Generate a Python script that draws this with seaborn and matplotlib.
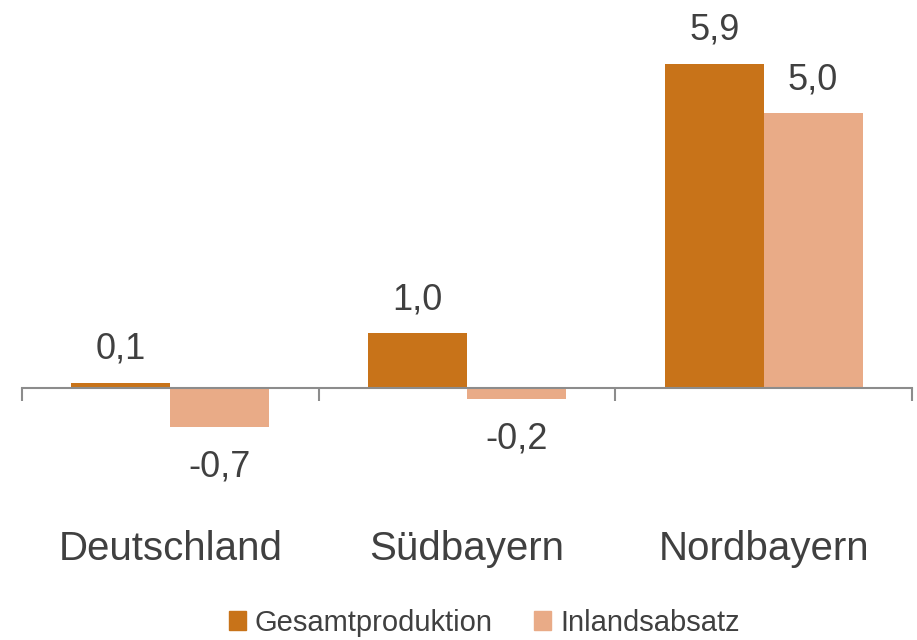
import pandas as pd
import numpy as np
import matplotlib
matplotlib.use('Agg')
import matplotlib.pyplot as plt
import seaborn as sns

# 資料
regions = ['Deutschland', 'Südbayern', 'Nordbayern']
series = ['Gesamtproduktion', 'Inlandsabsatz']
gesamt = [0.1, 1.0, 5.9]
inland = [-0.7, -0.2, 5.0]
colors = ['#C87319', '#E9AB87']

df = pd.DataFrame({
    'region': regions * 2,
    'serie': [series[0]] * 3 + [series[1]] * 3,
    'wert': gesamt + inland,
})

sns.set_style('white')
plt.rcParams['font.family'] = ['Liberation Sans', 'DejaVu Sans']
text_color = '#404040'

fig = plt.figure(figsize=(9.17, 6.4), dpi=100)
ax = fig.add_axes([22 / 917, 1 - 443 / 640, 890 / 917, 412.5 / 640])

sns.barplot(data=df, x='region', y='wert', hue='serie', order=regions,
            hue_order=series, palette=colors, width=2 / 3, gap=0,
            saturation=1, linewidth=0, ax=ax, legend=False)

ax.set_xlim(-0.5, 2.5)
ax.set_ylim(-1.0, 6.5)

# Wertbeschriftungen
for p in ax.patches:
    h = p.get_height()
    x = p.get_x() + p.get_width() / 2
    label = f'{h:.1f}'.replace('.', ',')
    off = 24 if h >= 0 else -29
    ax.annotate(label, (x, h), xytext=(0, off), textcoords='offset points',
                ha='center', va='center', fontsize=26, color=text_color)

# Achse
for s in ['top', 'right', 'left']:
    ax.spines[s].set_visible(False)
ax.spines['bottom'].set_position(('data', 0))
ax.spines['bottom'].set_color('#8C8C8C')
ax.spines['bottom'].set_linewidth(1.5)
ax.set_yticks([])
ax.set_xticks([-0.5, 0.5, 1.5, 2.5])
ax.set_xticklabels([])
ax.tick_params(axis='x', which='major', direction='out', length=9, width=1.5,
               color='#8C8C8C', bottom=True)
ax.set_xticks([0, 1, 2], minor=True)
ax.set_xticklabels(regions, minor=True)
ax.tick_params(axis='x', which='minor', length=0, pad=102, labelsize=29,
               labelcolor=text_color)
ax.set_xlabel('')
ax.set_ylabel('')

# Legende
handles = [plt.Rectangle((0, 0), 1, 1, color=c) for c in colors]
fig.legend(handles, series, loc='lower center', bbox_to_anchor=(0.528, -0.036),
           ncol=2, frameon=False, fontsize=21, handlelength=0.6, handleheight=0.6,
           handletextpad=0.3, columnspacing=1.4, labelcolor=text_color)

fig.savefig('out.png', dpi=100)
